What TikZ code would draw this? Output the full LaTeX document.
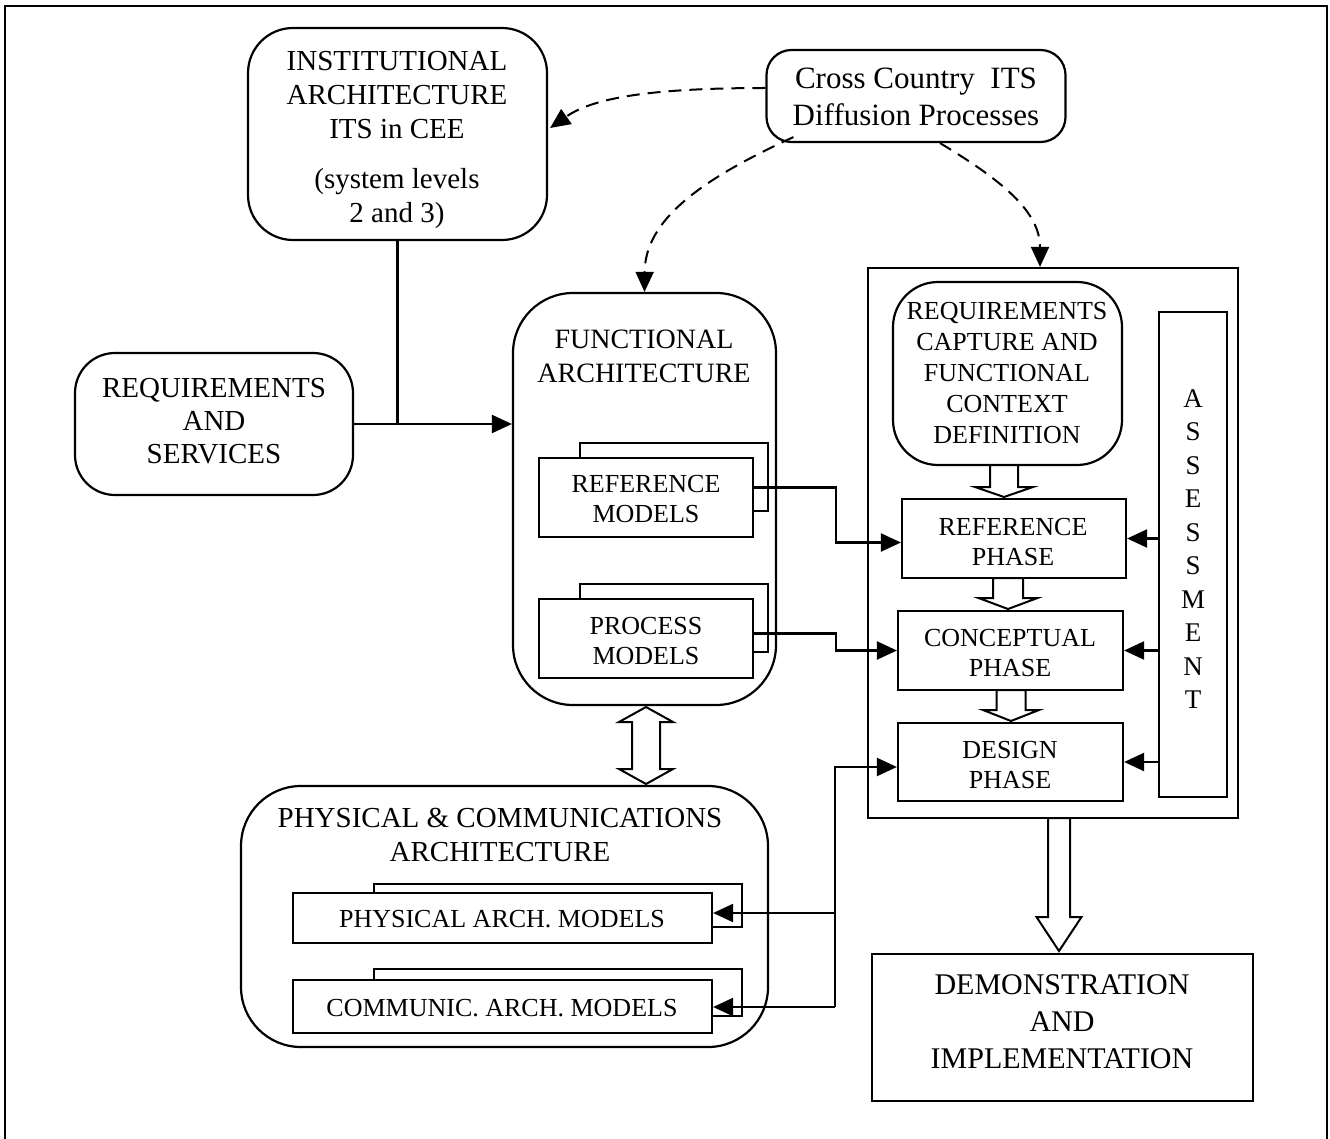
\documentclass[tikz,border=0pt]{standalone}
\usepackage{fontspec}
\setmainfont{Liberation Serif}
\usetikzlibrary{arrows.meta,calc}
\newcommand\blkdown[6]{%
  \draw[block] ({#1-#5},#2) -- ({#1-#5},#3) -- ({#1-#6},#3) -- (#1,#4) -- ({#1+#6},#3) -- ({#1+#5},#3) -- ({#1+#5},#2) -- cycle;}
\begin{document}
\begin{tikzpicture}[x=1pt,y=-1pt,
  rbox/.style={draw,line width=2.2pt,rounded corners=#1,inner sep=0pt},
  sbox/.style={draw,line width=2.2pt,fill=white,inner sep=0pt},
  txt/.style={align=center,inner sep=0pt},
  conn/.style={line width=2.2pt,-{Triangle[length=20pt,width=18pt]}},
  plain/.style={line width=2.2pt},
  dconn/.style={line width=2pt,dash pattern=on 13pt off 8pt,-{Triangle[length=20pt,width=18pt]}},
  block/.style={draw,line width=2pt,fill=white,line join=miter},
  fbig/.style={font=\fontsize{29}{34}\selectfont},
  fmid/.style={font=\fontsize{26}{30.5}\selectfont},
]
\useasboundingbox (0,0) rectangle (1330,1139);
\draw[line width=2.8pt] (5,1139) -- (5,6) -- (1327,6) -- (1327,1139);

% institutional
\node[rbox=45, minimum width=299pt, minimum height=212pt] (inst) at (397.5,134) {};
\node[txt, fbig] (instt) at (397,140) {INSTITUTIONAL\\ARCHITECTURE\\ITS in CEE\\[16pt](system levels\\2 and 3)};

% cross country
\node[rbox=25, minimum width=299pt, minimum height=92pt] (cross) at (916,96) {};
\node[txt, font=\fontsize{31}{37}\selectfont] (crosst) at (916,97) {Cross Country\ \ ITS\\Diffusion Processes};

% requirements and services
\node[rbox=40, minimum width=278pt, minimum height=142pt] (req) at (214,424) {};
\node[txt, font=\fontsize{29}{33}\selectfont] (reqt) at (214,421) {REQUIREMENTS\\AND\\SERVICES};

% functional architecture
\node[rbox=60, minimum width=263pt, minimum height=412pt] (func) at (644.5,499) {};
\node[txt, font=\fontsize{28}{34}\selectfont] (funct) at (644,356) {FUNCTIONAL\\ARCHITECTURE};
\node[sbox, minimum width=188pt, minimum height=68pt] (refmb) at (674,477) {};
\node[sbox, minimum width=214pt, minimum height=79pt] (refm) at (646,497.5) {};
\node[txt, fmid] (refmt) at (646,499) {REFERENCE\\MODELS};
\node[sbox, minimum width=188pt, minimum height=68pt] (procmb) at (674,618) {};
\node[sbox, minimum width=214pt, minimum height=79pt] (procm) at (646,638.5) {};
\node[txt, fmid] (procmt) at (646,641) {PROCESS\\MODELS};

% right big box
\node[draw, line width=2.2pt, minimum width=370pt, minimum height=550pt] (big) at (1053,543) {};
\node[rbox=45, minimum width=229pt, minimum height=183pt] (rcap) at (1007.5,373.5) {};
\node[txt, font=\fontsize{26}{31}\selectfont] (rcapt) at (1007,373) {REQUIREMENTS\\CAPTURE AND\\FUNCTIONAL\\CONTEXT\\DEFINITION};
\node[sbox, minimum width=68pt, minimum height=485pt] (asm) at (1193,554.5) {};
\node[txt, font=\fontsize{27}{33.5}\selectfont] (asmt) at (1193,549) {A\\S\\S\\E\\S\\S\\M\\E\\N\\T};
\node[sbox, minimum width=224pt, minimum height=79pt] (refp) at (1014,538.5) {};
\node[txt, fmid] (refpt) at (1013,542) {REFERENCE\\PHASE};
\node[sbox, minimum width=225pt, minimum height=79pt] (conp) at (1010.5,650.5) {};
\node[txt, fmid] (conpt) at (1010,653) {CONCEPTUAL\\PHASE};
\node[sbox, minimum width=225pt, minimum height=78pt] (desp) at (1010.5,762) {};
\node[txt, fmid] (despt) at (1010,765) {DESIGN\\PHASE};

% physical & communications
\node[rbox=60, minimum width=527pt, minimum height=261pt] (phys) at (504.5,916.5) {};
\node[txt, fbig] (physt) at (500,835) {PHYSICAL \& COMMUNICATIONS\\ARCHITECTURE};
\node[sbox, minimum width=368pt, minimum height=43pt] (pamb) at (558,905.5) {};
\node[sbox, minimum width=419pt, minimum height=50pt] (pam) at (502.5,918) {};
\node[txt, fmid] (pamt) at (502,919) {PHYSICAL ARCH. MODELS};
\node[sbox, minimum width=368pt, minimum height=47pt] (camb) at (558,992.5) {};
\node[sbox, minimum width=419pt, minimum height=53pt] (cam) at (502.5,1006.5) {};
\node[txt, fmid] (camt) at (502,1008) {COMMUNIC. ARCH. MODELS};

% demonstration
\node[sbox, minimum width=381pt, minimum height=147pt] (demo) at (1062.5,1027.5) {};
\node[txt, font=\fontsize{30}{37}\selectfont] (demot) at (1062,1022) {DEMONSTRATION\\AND\\IMPLEMENTATION};

% connectors
\draw[plain] (inst.south) -- (inst.south |- req.east);
\draw[conn] (req.east) -- (req.east -| func.west);
\draw[conn] ($(refm.east)+(0,-10)$) -- ++(82,0) |- ($(refp.west)+(0,4)$);
\draw[conn] ($(procm.east)+(0,-5)$) -- ++(82,0) |- (conp.west);
\coordinate (bus) at (835,1007);
\draw[conn] (bus) |- ($(desp.west)+(0,5)$);
\draw[conn] (bus) -- (bus -| cam.east);
\coordinate (pa) at ($(pam.east)+(0,-5)$);
\draw[conn] (pa -| bus) -- (pa);
\draw[conn] (asm.west |- refp.east) -- (refp.east);
\draw[conn] (asm.west |- conp.east) -- (conp.east);
\draw[conn] (asm.west |- desp.east) -- (desp.east);

% dashed
\draw[dconn] ($(cross.west)+(0,-8)$) .. controls (640,88) and (590,100) .. ($(inst.east)+(2,-6)$);
\draw[dconn] ($(cross.south west)+(28,-6)$) .. controls (700,180) and (645,220) .. (func.north);
\draw[dconn] ($(cross.south)+(24,0)$) .. controls (1010,185) and (1040,215) .. ($(big.north)+(-13,0)$);

% block arrows
\blkdown{1004}{465}{487}{497}{14}{29}
\blkdown{1008}{578}{598}{609}{15}{29.5}
\blkdown{1011}{690}{710}{721}{14.5}{28}
\blkdown{1059}{818}{917}{951}{11}{22.5}
\draw[block] (632,722) -- (619,722) -- (646,707) -- (673,722) -- (660,722) -- (660,769) -- (673,769) -- (646,784) -- (619,769) -- (632,769) -- cycle;
\end{tikzpicture}
\end{document}
